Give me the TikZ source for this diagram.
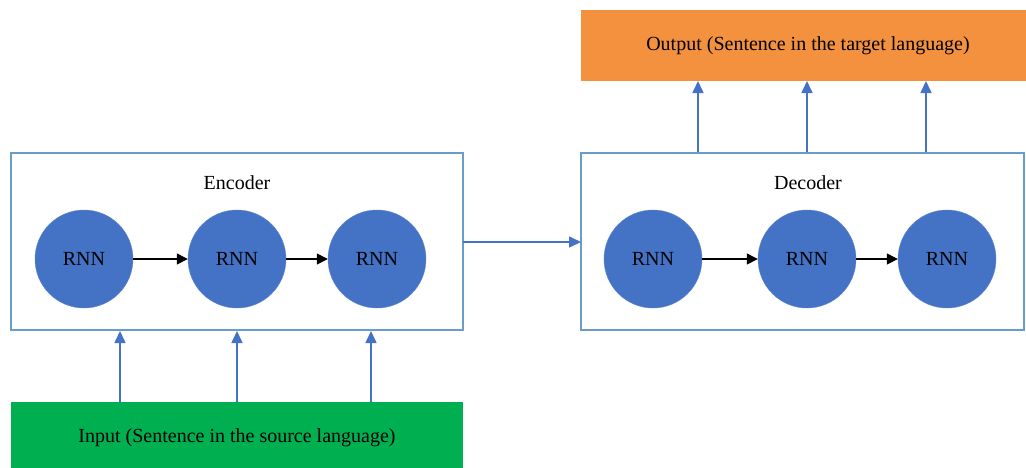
\documentclass[tikz,border=0pt]{standalone}
\usepackage{fontspec}
\setmainfont{Liberation Serif}
\usetikzlibrary{arrows.meta}
\definecolor{rnnblue}{HTML}{4472C4}
\definecolor{boxline}{HTML}{6A9CC9}
\definecolor{ingreen}{HTML}{00B050}
\definecolor{outorange}{HTML}{F4913F}
\tikzset{
  rnn/.style={circle, fill=rnnblue, draw=rnnblue!85!white, minimum size=98pt, inner sep=0pt, font=\fontsize{20}{22}\selectfont},
  frame/.style={draw=boxline, line width=1.2pt, fill=white},
  blk/.style={-{Triangle[length=11pt,width=11pt]}, line width=1.3pt, black},
  blu/.style={-{Triangle[length=12pt,width=11pt]}, line width=1.6pt, rnnblue},
  lbl/.style={font=\fontsize{20}{23}\selectfont, inner sep=0pt}
}
\begin{document}
\begin{tikzpicture}[x=1pt,y=-1pt]
\useasboundingbox (0,0) rectangle (1026,467);
\begin{scope}
\clip (0,0) rectangle (1026,467);
% boxes
\path[fill=outorange] (581,10) rectangle (1040,81);
\node[lbl] (outtxt) at (808,46) {Output (Sentence in the target language)};
\path[fill=ingreen] (11,402) rectangle (463,480);
\node[lbl] (intxt) at (237,438) {Input (Sentence in the source language)};
\draw[frame] (11,153) rectangle (463,330);
\draw[frame] (581,153) rectangle (1024,330);
\end{scope}
\coordinate (encR) at (463,242);
\coordinate (decL) at (581,242);
\node[lbl] (enc) at (237,183) {Encoder};
\node[lbl] (dec) at (808,183) {Decoder};
% circles
\node[rnn] (e1) at (84,259) {RNN};
\node[rnn] (e2) at (237,259) {RNN};
\node[rnn] (e3) at (377,259) {RNN};
\node[rnn] (d1) at (653,259) {RNN};
\node[rnn] (d2) at (807,259) {RNN};
\node[rnn] (d3) at (947,259) {RNN};
\draw[blk] (e1) -- (e2);
\draw[blk] (e2) -- (e3);
\draw[blk] (d1) -- (d2);
\draw[blk] (d2) -- (d3);
\draw[blu] (encR) -- (decL);
% input arrows
\coordinate (ia1) at (120,402); \coordinate (ib1) at (120,331);
\coordinate (ia2) at (237,402); \coordinate (ib2) at (237,331);
\coordinate (ia3) at (371,402); \coordinate (ib3) at (371,331);
\draw[blu] (ia1) -- (ib1);
\draw[blu] (ia2) -- (ib2);
\draw[blu] (ia3) -- (ib3);
% output arrows
\coordinate (oa1) at (698,152); \coordinate (ob1) at (698,81);
\coordinate (oa2) at (807,152); \coordinate (ob2) at (807,81);
\coordinate (oa3) at (926,152); \coordinate (ob3) at (926,81);
\draw[blu] (oa1) -- (ob1);
\draw[blu] (oa2) -- (ob2);
\draw[blu] (oa3) -- (ob3);
\end{tikzpicture}
\end{document}
